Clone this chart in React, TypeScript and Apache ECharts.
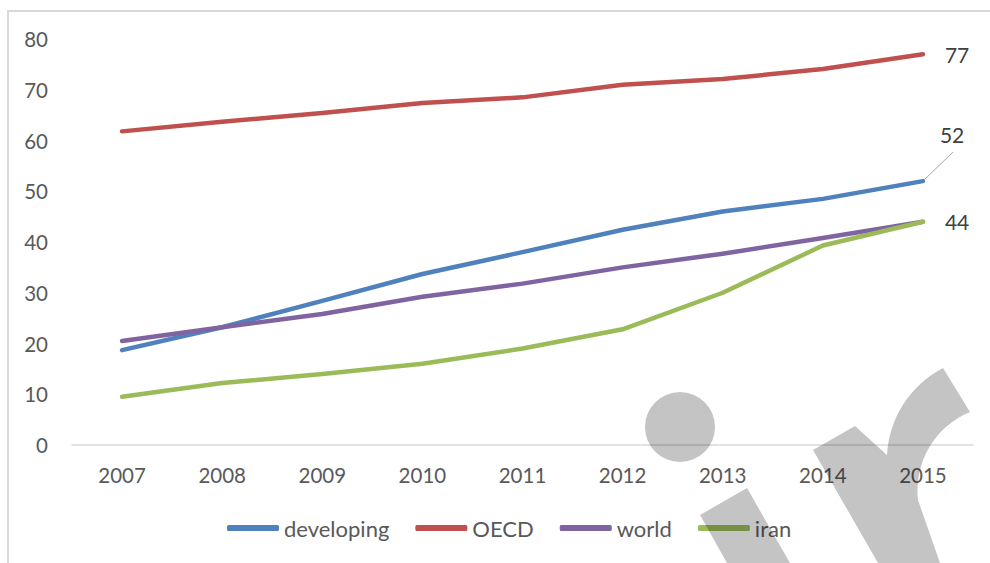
import React, { useEffect, useRef } from 'react';
import * as echarts from 'echarts';

const years = ['2007', '2008', '2009', '2010', '2011', '2012', '2013', '2014', '2015'];
const developing = [18.7, 23.2, 28.4, 33.7, 38.0, 42.4, 46.0, 48.5, 52];
const oecd = [61.8, 63.7, 65.4, 67.4, 68.5, 71.0, 72.1, 74.1, 77];
const world = [20.5, 23.2, 25.8, 29.2, 31.8, 35.0, 37.7, 40.8, 44];
const iran = [9.5, 12.2, 14.0, 16.0, 19.0, 22.8, 30.0, 39.3, 44];
const seriesNames = ['developing', 'OECD', 'world', 'iran'];
const seriesColors = ['#4f81bd', '#c0504d', '#8064a2', '#9bbb59'];

const LOGO_D =
  'M645,427 A35,35 0 1,1 715,427 A35,35 0 1,1 645,427 Z ' +
  'M700,515 L747,488 L790,563 L727,563 Z ' +
  'M813,450 L855,426 L887,455 A104,104 0 0,1 943,368 L970,412 A85,85 0 0,0 918,500 L940,563 L878,563 Z';

let logoRegistered = false;
function ensureLogo() {
  if (logoRegistered) return;
  echarts.graphic.registerShape('irlogo', echarts.graphic.extendPath(LOGO_D, {}) as any);
  logoRegistered = true;
}

const FONT = 'Lato';

export default function App() {
  const ref = useRef<HTMLDivElement>(null);
  useEffect(() => {
    if (!ref.current) return;
    ensureLogo();
    const chart = echarts.init(ref.current, undefined, { renderer: 'svg' });
    const lastLabel = (distance: number, offset: number[]) => ({
      show: true,
      formatter: (p: any) => String(Array.isArray(p.value) ? p.value[1] : p.value),
      color: '#404040',
      fontSize: 21,
      fontFamily: FONT,
      distance,
      offset,
    });
    const data = [developing, oecd, world, iran];
    const series = data.map((d, i) => ({
      name: seriesNames[i],
      type: 'line',
      data: d,
      showSymbol: false,
      symbol: 'none',
      lineStyle: { color: seriesColors[i], width: 4.5, cap: 'round', join: 'round' },
      itemStyle: { color: seriesColors[i] },
      endLabel:
        i === 0
          ? lastLabel(17, [0, -47])
          : i === 1 || i === 3
          ? lastLabel(22, [0, 0])
          : { show: false },
      z: 2 + i,
    }));
    chart.setOption({
      animation: false,
      backgroundColor: '#ffffff',
      grid: { left: 72, right: 17, top: 39, bottom: 118, containLabel: false },
      xAxis: {
        type: 'category',
        data: years,
        boundaryGap: true,
        axisLine: { lineStyle: { color: '#d9d9d9', width: 1.5 } },
        axisTick: { show: false },
        axisLabel: { color: '#595959', fontSize: 20.5, fontFamily: FONT, margin: 19 },
      },
      yAxis: {
        type: 'value',
        min: 0,
        max: 80,
        interval: 10,
        axisLine: { show: false },
        axisTick: { show: false },
        splitLine: { show: false },
        axisLabel: { color: '#595959', fontSize: 20.5, fontFamily: FONT, margin: 24 },
      },
      legend: {
        data: seriesNames,
        top: 512,
        left: 222,
        icon: 'roundRect',
        itemWidth: 52,
        itemHeight: 6,
        itemGap: 26,
        textStyle: { color: '#595959', fontSize: 22, fontFamily: FONT },
      },
      series,
      graphic: [
        {
          id: 'border',
          type: 'rect',
          shape: { x: 8, y: 11, width: 1000, height: 600 },
          style: { fill: 'none', stroke: '#d9d9d9', lineWidth: 2 },
          silent: true,
          z: -10,
        },
        {
          id: 'logo',
          type: 'irlogo',
          x: 0,
          y: 0,
          style: { fill: 'rgba(0,0,0,0.23)' },
          silent: true,
          z: 100,
        },
      ],
    });
    const last = developing.length - 1;
    const pt = chart.convertToPixel({ seriesIndex: 0 }, [last, developing[last]]) as number[];
    if (pt) {
      chart.setOption({
        graphic: [
          {
            id: 'leader',
            type: 'line',
            shape: { x1: pt[0] + 1, y1: pt[1] - 1, x2: pt[0] + 30, y2: pt[1] - 29 },
            style: { stroke: '#a6a6a6', lineWidth: 1 },
            silent: true,
            z: 50,
          },
        ],
      });
    }
    return () => chart.dispose();
  }, []);
  return (
    <div
      ref={ref}
      style={{ position: 'fixed', left: 0, top: 0, width: 990, height: 563 }}
    />
  );
}
